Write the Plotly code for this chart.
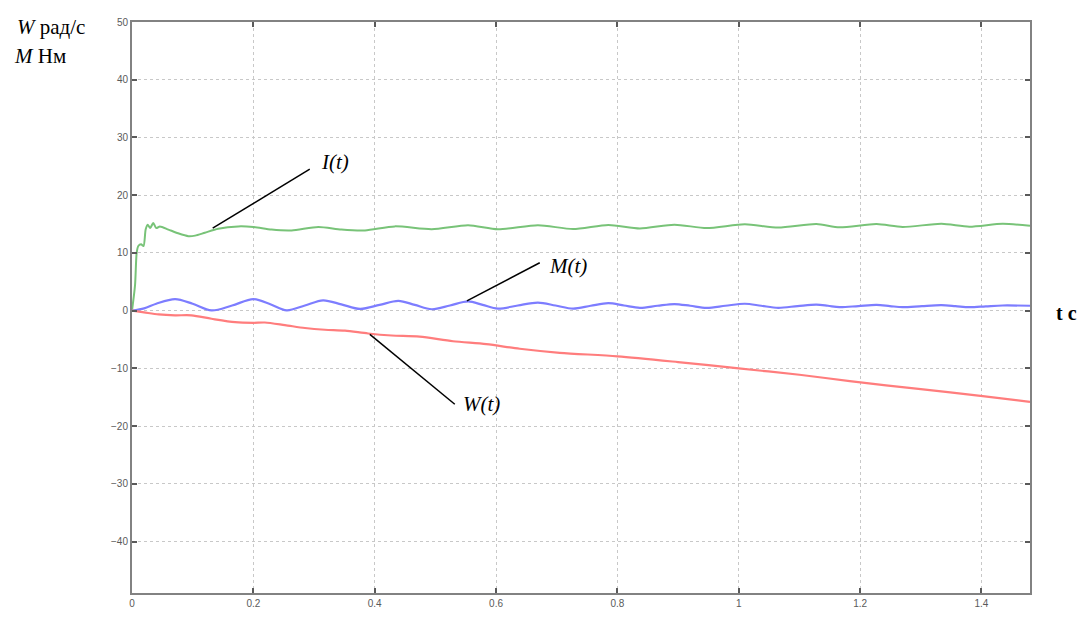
import plotly.graph_objects as go

# ---- data ----
t_I = [0, 0.005, 0.0077, 0.0104, 0.015, 0.019, 0.0225, 0.0258, 0.03, 0.035, 0.04, 0.046,
       0.06, 0.076, 0.093, 0.104, 0.12, 0.142, 0.175, 0.2, 0.23, 0.263, 0.307, 0.345, 0.384,
       0.433, 0.494, 0.554, 0.603, 0.669, 0.727, 0.785, 0.837, 0.894, 0.947, 1.01, 1.065,
       1.128, 1.166, 1.227, 1.27, 1.334, 1.38, 1.435, 1.48]
I_vals = [0, 4.4, 10.0, 11.2, 11.5, 11.2, 14.05, 14.9, 14.3, 15.2, 14.3, 14.6,
          14.05, 13.4, 12.9, 13.0, 13.5, 14.2, 14.6, 14.5, 14.05, 13.9, 14.5, 14.05, 13.9,
          14.6, 14.1, 14.8, 14.1, 14.8, 14.15, 14.85, 14.25, 14.9, 14.3, 14.95, 14.4,
          15.0, 14.45, 15.0, 14.5, 15.05, 14.55, 15.05, 14.7]

t_M = [0, 0.02, 0.04, 0.071, 0.10, 0.131, 0.165, 0.2, 0.228, 0.255, 0.285, 0.315, 0.345,
       0.376, 0.408, 0.439, 0.466, 0.494, 0.524, 0.554, 0.578, 0.603, 0.636, 0.669, 0.698,
       0.727, 0.756, 0.785, 0.811, 0.837, 0.866, 0.894, 0.92, 0.947, 0.978, 1.01, 1.037,
       1.065, 1.097, 1.128, 1.147, 1.166, 1.197, 1.227, 1.249, 1.27, 1.302, 1.334, 1.357,
       1.38, 1.407, 1.435, 1.48]
M_vals = [0, 0.4, 1.2, 2.0, 1.2, 0.05, 0.9, 2.0, 1.1, 0.05, 0.9, 1.8, 1.1,
          0.3, 1.0, 1.7, 1.0, 0.25, 0.9, 1.6, 1.0, 0.35, 0.9, 1.4, 0.9,
          0.35, 0.85, 1.3, 0.9, 0.5, 0.85, 1.15, 0.85, 0.5, 0.85, 1.2, 0.85,
          0.5, 0.8, 1.05, 0.85, 0.6, 0.8, 1.0, 0.8, 0.6, 0.8, 0.95, 0.8,
          0.6, 0.75, 0.9, 0.85]

t_W = [0, 0.02, 0.044, 0.071, 0.098, 0.131, 0.17, 0.2, 0.219, 0.252, 0.285, 0.318, 0.351,
       0.389, 0.428, 0.474, 0.529, 0.584, 0.639, 0.705, 0.8, 0.9, 1.0, 1.1, 1.183, 1.3,
       1.402, 1.48]
W_vals = [0, -0.3, -0.65, -0.8, -0.8, -1.4, -2.0, -2.1, -2.05, -2.5, -3.0, -3.3, -3.45,
          -3.95, -4.3, -4.5, -5.3, -5.8, -6.6, -7.3, -7.9, -8.9, -10.0, -11.1, -12.2, -13.6,
          -14.8, -15.8]

x_ticks = [0, 0.2, 0.4, 0.6, 0.8, 1.0, 1.2, 1.4]
x_tick_labels = ["0", "0.2", "0.4", "0.6", "0.8", "1", "1.2", "1.4"]
y_ticks = [-40, -30, -20, -10, 0, 10, 20, 30, 40, 50]

# label callouts: (text, text_x, text_y, line_x0, line_y0, line_x1, line_y1)
callouts = [
    ("I(t)", 0.334, 25.7, 0.133, 14.3, 0.293, 24.5),
    ("M(t)", 0.718, 7.8, 0.552, 1.7, 0.672, 8.3),
    ("W(t)", 0.576, -16.2, 0.392, -4.1, 0.532, -16.2),
]

fig = go.Figure()
fig.add_trace(go.Scatter(x=t_I, y=I_vals, mode="lines",
                         line=dict(color="rgb(120,195,120)", width=2, shape="spline", smoothing=0.7)))
fig.add_trace(go.Scatter(x=t_M, y=M_vals, mode="lines",
                         line=dict(color="rgb(125,125,255)", width=2.2, shape="spline", smoothing=0.9)))
fig.add_trace(go.Scatter(x=t_W, y=W_vals, mode="lines",
                         line=dict(color="rgb(255,125,125)", width=2.2, shape="spline", smoothing=0.8)))

serif = "Liberation Serif, Times New Roman, serif"
for txt, tx, ty, x0, y0, x1, y1 in callouts:
    fig.add_shape(type="line", x0=x0, y0=y0, x1=x1, y1=y1, xref="x", yref="y",
                  line=dict(color="black", width=1.5))
    fig.add_annotation(x=tx, y=ty, xref="x", yref="y", text="<i>" + txt + "</i>",
                       showarrow=False, font=dict(family=serif, size=21, color="black"))

fig.add_annotation(x=-0.130, y=0.991, xref="paper", yref="paper", xanchor="left", yanchor="middle",
                   text="<i>W</i> рад/с", showarrow=False,
                   font=dict(family=serif, size=21, color="black"))
fig.add_annotation(x=-0.134, y=0.940, xref="paper", yref="paper", xanchor="left", yanchor="middle",
                   text="<i>M</i> Нм", showarrow=False,
                   font=dict(family=serif, size=21, color="black"))
fig.add_annotation(x=1.027, y=0.491, xref="paper", yref="paper", xanchor="left", yanchor="middle",
                   text="<b>t c</b>", showarrow=False,
                   font=dict(family=serif, size=20, color="black"))

axis_common = dict(
    showgrid=True, gridcolor="rgb(200,200,200)", griddash="dot", gridwidth=1,
    zeroline=False, showline=True, linecolor="rgb(130,130,130)", linewidth=2,
    mirror="ticks", ticks="inside", ticklen=5, tickwidth=1.5, tickcolor="rgb(90,90,90)",
    tickfont=dict(family="Liberation Sans, Arial, sans-serif", size=10, color="rgb(90,90,90)"),
)

fig.update_xaxes(range=[0, 1.48], tickvals=x_ticks, ticktext=x_tick_labels, **axis_common)
fig.update_yaxes(range=[-48.9, 50], tickvals=y_ticks, **axis_common)

fig.update_layout(
    width=1085, height=621,
    margin=dict(l=132, r=55, t=22, b=17),
    plot_bgcolor="white", paper_bgcolor="white",
    showlegend=False,
)

fig.write_html("out.html")
